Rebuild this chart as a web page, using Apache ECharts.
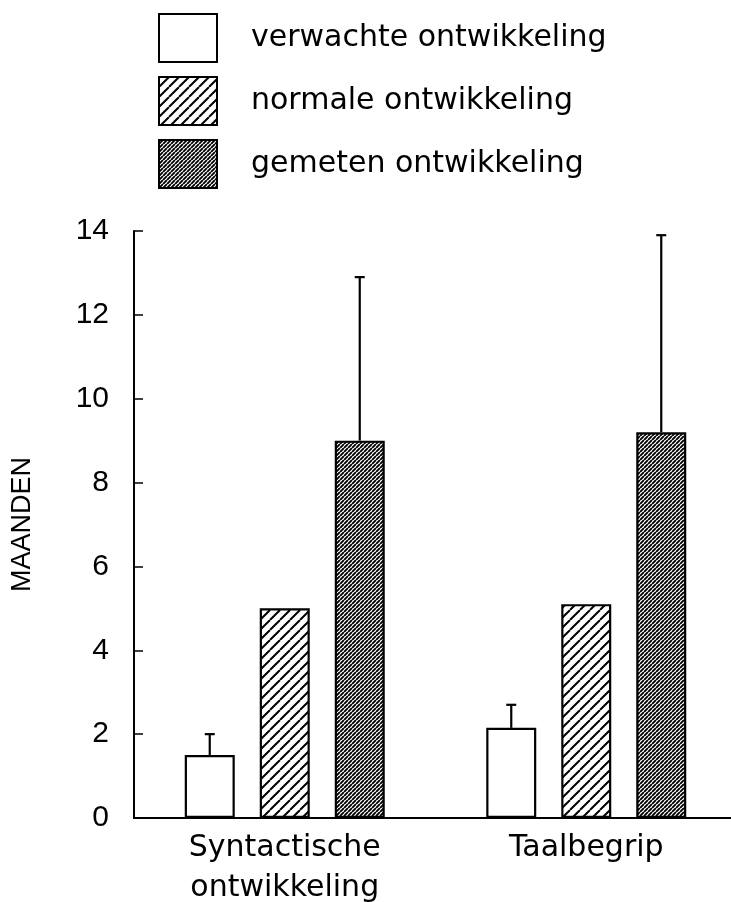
<!DOCTYPE html>
<html>
<head>
<meta charset="utf-8">
<script src="https://cdn.jsdelivr.net/npm/echarts@6/dist/echarts.min.js"></script>
<style>
html,body{margin:0;padding:0;background:#fff;}
#chart{width:731px;height:902px;}
</style>
</head>
<body>
<div id="chart"></div>
<script>
// ---- data ----
const categories = ['Syntactische\nontwikkeling', 'Taalbegrip'];
const seriesNames = ['verwachte ontwikkeling', 'normale ontwikkeling', 'gemeten ontwikkeling'];
const verwacht = [1.5, 2.15];
const normaal = [5.0, 5.1];
const gemeten = [9.0, 9.2];
const verwachtErr = [0.5, 0.55];
const gemetenErr = [3.9, 4.7];
const yMin = 0, yMax = 14, yStep = 2;
const yName = 'MAANDEN';

// ---- styles ----
const BAR_W = 50;
const GAP_FRAC = 0.5;

function hatch(size, lw) {
  const c = document.createElement('canvas');
  c.width = size; c.height = size;
  const ctx = c.getContext('2d');
  ctx.fillStyle = '#fff';
  ctx.fillRect(0, 0, size, size);
  ctx.strokeStyle = '#000';
  ctx.lineWidth = lw;
  ctx.beginPath();
  for (const o of [-size, 0, size]) {
    ctx.moveTo(o, size);
    ctx.lineTo(o + size, 0);
  }
  ctx.stroke();
  return c;
}
const normalFill = { image: hatch(10, 2), repeat: 'repeat' };
const denseFill = { image: hatch(4, 1.9), repeat: 'repeat' };

const fills = ['#ffffff', normalFill, denseFill];
const values = [verwacht, normaal, gemeten];

function errRender(slot) {
  return function (params, api) {
    const i = api.value(0);
    const lo = api.coord([i, api.value(1)]);
    const hi = api.coord([i, api.value(2)]);
    const x = lo[0] + slot * BAR_W * (1 + GAP_FRAC);
    return {
      type: 'group',
      children: [
        { type: 'line', shape: { x1: x, y1: lo[1], x2: x, y2: hi[1] }, style: { stroke: '#000', lineWidth: 2.2 } },
        { type: 'line', shape: { x1: x - 5, y1: hi[1], x2: x + 5, y2: hi[1] }, style: { stroke: '#000', lineWidth: 2.2 } }
      ]
    };
  };
}

const barSeries = seriesNames.map((name, k) => ({
  name: name,
  type: 'bar',
  barWidth: BAR_W,
  barGap: (GAP_FRAC * 100) + '%',
  data: values[k],
  itemStyle: { color: fills[k], borderColor: '#000', borderWidth: 2.2 },
  z: 2,
  silent: true
}));

const errSeries = [
  { type: 'custom', z: 3, silent: true, renderItem: errRender(-1),
    data: categories.map((c, i) => [i, verwacht[i], verwacht[i] + verwachtErr[i]]) },
  { type: 'custom', z: 3, silent: true, renderItem: errRender(1),
    data: categories.map((c, i) => [i, gemeten[i], gemeten[i] + gemetenErr[i]]) }
];

const chart = echarts.init(document.getElementById('chart'), null, { renderer: 'canvas' });
chart.setOption({
  backgroundColor: '#fff',
  animation: false,
  legend: {
    data: seriesNames,
    orient: 'vertical',
    left: 158,
    top: 13,
    padding: 0,
    icon: 'rect',
    itemWidth: 58,
    itemHeight: 48,
    itemGap: 13,
    selectedMode: false,
    textStyle: {
      fontFamily: 'DejaVu Sans',
      fontSize: 30,
      color: '#000',
      padding: [0, 0, 0, 29]
    }
  },
  grid: { left: 134, top: 231, width: 603, height: 587, outerBoundsMode: 'none', containLabel: false },
  xAxis: {
    type: 'category',
    data: categories,
    axisLine: { lineStyle: { color: '#000', width: 2 } },
    axisTick: { show: false },
    axisLabel: {
      fontFamily: 'DejaVu Sans',
      fontSize: 30,
      lineHeight: 40,
      color: '#000',
      margin: 10
    }
  },
  yAxis: {
    type: 'value',
    min: yMin,
    max: yMax,
    interval: yStep,
    name: yName,
    nameLocation: 'middle',
    nameRotate: 90,
    nameGap: 98,
    nameTextStyle: { fontFamily: 'Liberation Sans', fontSize: 27, color: '#000' },
    axisLine: { show: true, lineStyle: { color: '#000', width: 2 } },
    axisTick: { show: true, inside: true, length: 9, lineStyle: { color: '#000', width: 1.5 } },
    splitLine: { show: false },
    axisLabel: {
      fontFamily: 'Liberation Sans',
      fontSize: 30,
      color: '#000',
      margin: 25
    }
  },
  series: barSeries.concat(errSeries)
});
</script>
</body>
</html>
